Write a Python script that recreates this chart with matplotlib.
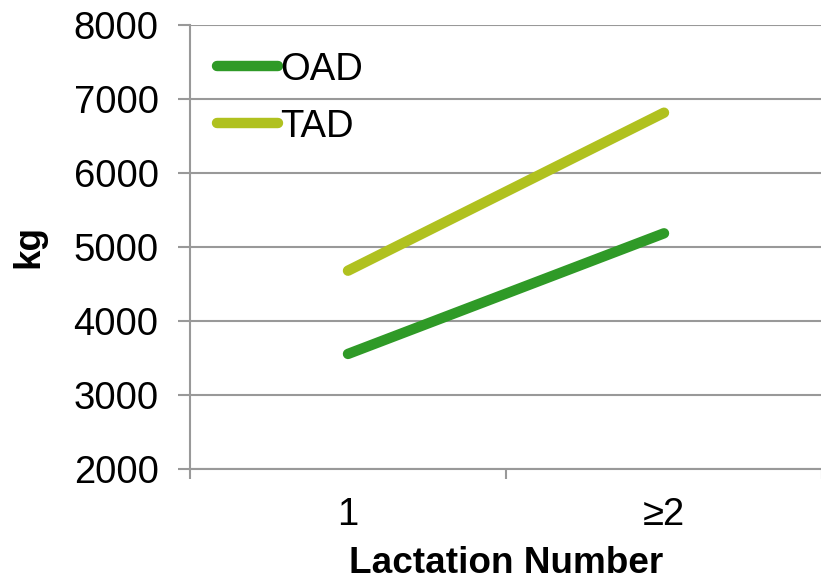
import matplotlib
matplotlib.use("Agg")
import matplotlib.pyplot as plt

categories = ["1", "\u22652"]
oad = [3555, 5185]
tad = [4680, 6815]
series_names = ["OAD", "TAD"]
yticks = [2000, 3000, 4000, 5000, 6000, 7000, 8000]

plt.rcParams['font.family'] = ['Liberation Sans', 'DejaVu Sans']

fig = plt.figure(figsize=(8.21, 5.81), dpi=100)
ax = fig.add_axes([190/821, 112/581, 632/821, 444/581])

x = list(range(len(categories)))
ax.plot(x, oad, color="#2f9a27", lw=7.5, solid_capstyle="round", label=series_names[0], zorder=3)
ax.plot(x, tad, color="#b0c11f", lw=7.5, solid_capstyle="round", label=series_names[1], zorder=3)

ax.set_xlim(-0.5, 1.5)
ax.set_ylim(2000, 8000)
ax.set_yticks(yticks)
ax.set_yticklabels([str(v) for v in yticks], fontsize=27.5)
ax.set_xticks(x)
ax.set_xticklabels(categories, fontsize=27.5)
ax.tick_params(axis='x', length=0, pad=20)
ax.tick_params(axis='y', length=8.6, width=1.5, color="#999999", pad=14)
ax.set_xticks([-0.5, 0.5, 1.5], minor=True)
ax.tick_params(axis='x', which='minor', length=7, width=1.5, color="#999999")

ax.grid(axis='y', color="#999999", lw=1.5, zorder=0)
for s in ["top", "right"]:
    ax.spines[s].set_visible(False)
for s in ["left", "bottom"]:
    ax.spines[s].set_color("#999999")
    ax.spines[s].set_linewidth(1.5)

ax.set_xlabel("Lactation Number", fontsize=26.6, fontweight="bold", labelpad=9.5)
ax.set_ylabel("kg", fontsize=26.6, fontweight="bold", labelpad=19.5)

leg = ax.legend(loc="upper left", bbox_to_anchor=(0.0, 1.0), frameon=False, fontsize=27.5,
                handlelength=1.6, handletextpad=0.05, labelspacing=0.55, borderaxespad=0.3)

fig.savefig("out.png", dpi=100)
